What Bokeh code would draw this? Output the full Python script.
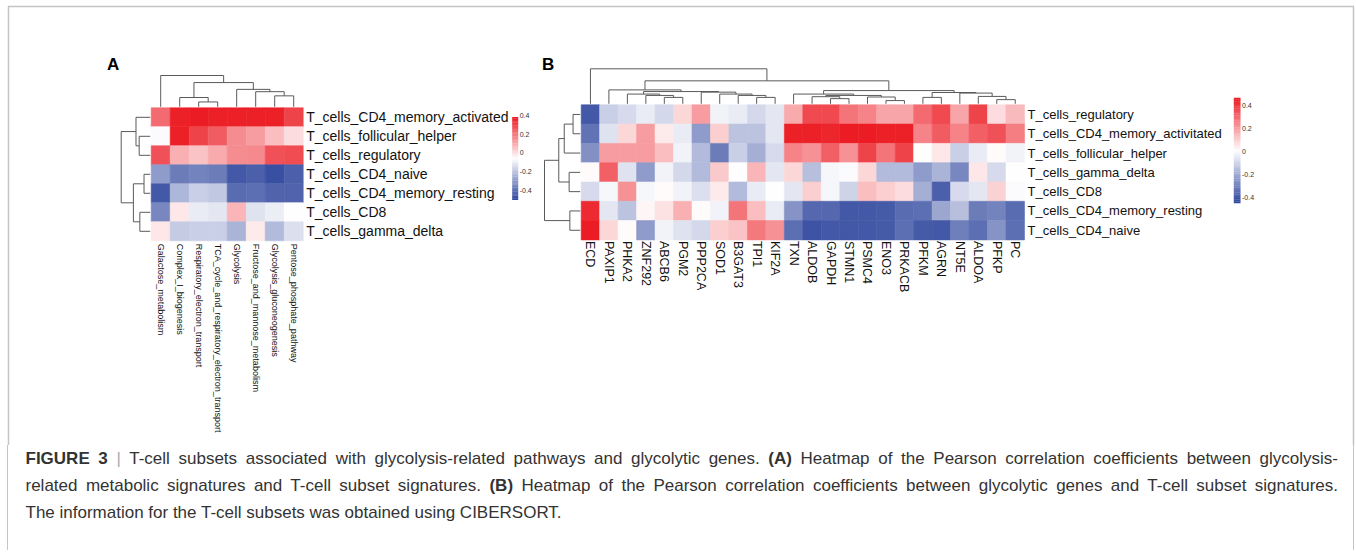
import numpy as np
from bokeh.plotting import figure
from bokeh.models import ColumnDataSource, Range1d, LinearColorMapper, Div
from bokeh.layouts import column
from bokeh.transform import transform
from bokeh.core.properties import value
from bokeh.embed import file_html
from bokeh.resources import INLINE

# ---------------- data ----------------
A_COLS = ["Galactose_metabolism", "Complex_I_biogenesis", "Respiratory_electron_transport",
          "TCA_cycle_and_respiratory_electron_transport", "Glycolysis",
          "Fructose_and_mannose_metabolism", "Glycolysis_gluconeogenesis",
          "Pentose_phosphate_pathway"]
A_ROWS = ["T_cells_CD4_memory_activated", "T_cells_follicular_helper", "T_cells_regulatory",
          "T_cells_CD4_naive", "T_cells_CD4_memory_resting", "T_cells_CD8",
          "T_cells_gamma_delta"]
A_VALUES = [
    [0.30, 0.45, 0.47, 0.45, 0.45, 0.45, 0.45, 0.38],
    [-0.01, 0.45, 0.38, 0.33, 0.23, 0.20, 0.13, 0.07],
    [0.35, 0.16, 0.12, 0.17, 0.23, 0.24, 0.35, 0.36],
    [-0.25, -0.33, -0.31, -0.33, -0.42, -0.40, -0.44, -0.40],
    [-0.42, -0.18, -0.12, -0.14, -0.37, -0.36, -0.39, -0.39],
    [-0.30, 0.05, -0.05, -0.06, 0.15, -0.07, -0.04, 0.00],
    [0.05, -0.13, -0.12, -0.12, -0.19, 0.04, -0.17, -0.08],
]
# merges (left id, right id, relative height); leaves are 0..n-1, merge k gets id n+k
A_COL_TREE = [(2, 3, 0.155), (1, 8, 0.297), (6, 7, 0.35), (5, 10, 0.483),
              (4, 11, 0.557), (9, 12, 0.774), (0, 13, 1.0)]
A_ROW_TREE = [(1, 2, 0.38), (0, 7, 0.49), (3, 4, 0.213), (5, 6, 0.357),
              (9, 10, 0.58), (8, 11, 1.0)]

B_COLS = ["ECD", "PAXIP1", "PHKA2", "ZNF292", "ABCB6", "PGM2", "PPP2CA", "SOD1", "B3GAT3",
          "TPI1", "KIF2A", "TXN", "ALDOB", "GAPDH", "STMN1", "PSMC4", "ENO3", "PRKACB",
          "PFKM", "AGRN", "NT5E", "ALDOA", "PFKP", "PC"]
B_ROWS = ["T_cells_regulatory", "T_cells_CD4_memory_activitated", "T_cells_follicular_helper",
          "T_cells_gamma_delta", "T_cells_CD8", "T_cells_CD4_memory_resting",
          "T_cells_CD4_naive"]
B_VALUES = [
    [-0.42, -0.12, -0.09, -0.05, -0.10, 0.08, 0.20, -0.03, -0.05, -0.10, -0.06,
     0.17, 0.37, 0.37, 0.28, 0.25, 0.18, 0.18, 0.30, 0.37, 0.18, 0.38, 0.07, 0.14],
    [-0.35, -0.07, 0.08, 0.20, 0.04, -0.05, -0.25, 0.10, -0.15, -0.15, -0.06,
     0.45, 0.45, 0.44, 0.46, 0.46, 0.45, 0.45, 0.25, 0.33, 0.25, 0.32, 0.35, 0.26],
    [-0.28, 0.20, 0.20, 0.20, 0.13, -0.03, -0.17, -0.33, -0.12, -0.20, -0.09,
     0.25, 0.22, 0.32, 0.22, 0.38, 0.28, 0.38, 0.00, 0.05, -0.12, -0.05, 0.01, -0.03],
    [0.01, 0.32, -0.07, -0.25, -0.03, -0.10, -0.17, 0.11, 0.00, 0.15, -0.06,
     0.08, -0.16, -0.02, -0.01, 0.08, -0.17, -0.17, -0.25, -0.19, -0.30, 0.05, -0.09, 0.00],
    [-0.09, -0.02, 0.22, -0.02, 0.01, -0.03, -0.08, 0.04, -0.17, -0.05, 0.00,
     -0.06, 0.10, -0.02, -0.11, 0.13, 0.10, 0.07, -0.20, -0.40, -0.09, -0.06, 0.09, -0.01],
    [0.43, -0.06, -0.15, 0.02, 0.06, 0.16, 0.01, -0.03, 0.28, 0.13, -0.05,
     -0.27, -0.38, -0.38, -0.42, -0.42, -0.41, -0.37, -0.36, -0.22, -0.16, -0.33, -0.31, -0.37],
    [0.46, 0.08, 0.01, -0.25, -0.03, -0.07, -0.10, 0.10, 0.12, 0.27, 0.22,
     -0.36, -0.43, -0.42, -0.42, -0.42, -0.41, -0.36, -0.41, -0.42, -0.32, -0.36, -0.27, -0.36],
]
B_COL_TREE = [(4, 5, 0.183), (3, 24, 0.239), (2, 25, 0.278), (9, 10, 0.183), (8, 27, 0.239),
              (7, 28, 0.278), (6, 29, 0.333), (26, 30, 0.35), (1, 31, 0.397), (13, 14, 0.147),
              (12, 33, 0.203), (16, 17, 0.092), (15, 35, 0.194), (34, 36, 0.239),
              (11, 37, 0.278), (18, 19, 0.183), (22, 23, 0.119), (21, 40, 0.211),
              (20, 41, 0.306), (39, 42, 0.322), (38, 43, 0.378), (32, 44, 0.656),
              (0, 45, 1.0)]
B_ROW_TREE = [(0, 1, 0.2), (7, 2, 0.447), (3, 4, 0.31), (8, 9, 0.6), (5, 6, 0.29),
              (10, 11, 1.0)]

CB_TICKS = [0.4, 0.2, 0.0, -0.2, -0.4]
CB_LABELS = ["0.4", "0.2", "0", "-0.2", "-0.4"]

CAPTION_1 = ("<b>FIGURE 3</b> <span style='color:#aaa'>|</span> T-cell subsets associated with "
             "glycolysis-related pathways and glycolytic genes. <b>(A)</b> Heatmap of the Pearson "
             "correlation coefficients between glycolysis-")
CAPTION_2 = ("related metabolic signatures and T-cell subset signatures. <b>(B)</b> Heatmap of the "
             "Pearson correlation coefficients between glycolytic genes and T-cell subset signatures.")
CAPTION_3 = "The information for the T-cell subsets was obtained using CIBERSORT."

# ---------------- styling ----------------
BLUE = (49, 72, 158)
RED = (236, 28, 36)


def make_palette(n=256):
    pal = []
    for t in np.linspace(0, 1, n):
        if t < 0.5:
            s = t / 0.5
            c = [BLUE[i] + (255 - BLUE[i]) * s for i in range(3)]
        else:
            s = (t - 0.5) / 0.5
            c = [255 + (RED[i] - 255) * s for i in range(3)]
        pal.append("#%02x%02x%02x" % tuple(int(round(v)) for v in c))
    return pal


PAL = make_palette()
mapper = LinearColorMapper(palette=PAL, low=-0.46, high=0.46)
FONT = value("Liberation Sans")
DCOL = "#5a5a5a"
FRAME = "#c4c4c4"

W, H = 1356, 445
p = figure(width=W, height=H, x_range=Range1d(0, W), y_range=Range1d(H, 0),
           output_backend="svg", toolbar_location=None, x_axis_type=None, y_axis_type=None,
           min_border=0)
p.outline_line_color = None
p.background_fill_color = "white"

# frame of the figure box
p.multi_line(xs=[[8, 8], [7.5, 1353.5], [1353, 1353]],
             ys=[[6, H], [6, 6], [6, H]], line_color=FRAME, line_width=1.5)


def tree_segments(tree, n):
    pos = list(range(n))
    hts = [0.0] * n
    segs = []
    for a, b, h in tree:
        segs.append(([pos[a], pos[a], pos[b], pos[b]], [hts[a], h, h, hts[b]]))
        pos.append((pos[a] + pos[b]) / 2.0)
        hts.append(h)
    return segs


def draw_panel(cols, rows, vals, col_tree, row_tree, x0, y0, cw, rh, col_dh, row_dw,
               col_font, row_font, col_gap):
    nr, nc = len(rows), len(cols)
    xs, ys, vs = [], [], []
    for i in range(nr):
        for j in range(nc):
            xs.append(x0 + (j + 0.5) * cw)
            ys.append(y0 + (i + 0.5) * rh)
            vs.append(vals[i][j])
    src = ColumnDataSource(dict(x=xs, y=ys, v=vs))
    p.rect(x="x", y="y", width=cw, height=rh, source=src,
           fill_color=transform("v", mapper), line_color=transform("v", mapper), line_width=0.6)
    # top dendrogram
    dx, dy = [], []
    for sx, sy in tree_segments(col_tree, nc):
        dx.append([x0 + (s + 0.5) * cw for s in sx])
        dy.append([y0 - 1 - h * col_dh for h in sy])
    p.multi_line(xs=dx, ys=dy, line_color=DCOL, line_width=1)
    # left dendrogram
    dx, dy = [], []
    for sy, sx in tree_segments(row_tree, nr):
        dy.append([y0 + (s + 0.5) * rh for s in sy])
        dx.append([x0 - 1 - h * row_dw for h in sx])
    p.multi_line(xs=dx, ys=dy, line_color=DCOL, line_width=1)
    # row labels
    p.text(x=[x0 + nc * cw + 3] * nr, y=[y0 + (i + 0.5) * rh for i in range(nr)], text=rows,
           text_font=FONT, text_font_size=row_font, text_align="left",
           text_baseline="middle", text_color="#111111")
    # column labels
    p.text(x=[x0 + (j + 0.5) * cw for j in range(nc)], y=[y0 + nr * rh + col_gap] * nc,
           text=cols, angle=-np.pi / 2, text_font=FONT, text_font_size=col_font,
           text_align="left", text_baseline="middle", text_color="#111111")


def draw_colorbar(bx, by_top, by_bot, bw, zero_y, k):
    n = 60
    edges = np.linspace(by_bot, by_top, n + 1)
    tv = np.linspace(-0.46, 0.46, n)
    src = ColumnDataSource(dict(x=[bx + bw / 2] * n, y=list((edges[:-1] + edges[1:]) / 2),
                                v=list(tv)))
    p.rect(x="x", y="y", width=bw, height=abs(edges[1] - edges[0]) + 0.3, source=src,
           fill_color=transform("v", mapper), line_color=None)
    p.text(x=[bx + bw + 1.5] * len(CB_TICKS), y=[zero_y - t * k for t in CB_TICKS],
           text=CB_LABELS, text_font=FONT, text_font_size="7px", text_align="left",
           text_baseline="middle", text_color="#333333")


# Panel A
draw_panel(A_COLS, A_ROWS, A_VALUES, A_COL_TREE, A_ROW_TREE,
           x0=150.7, y0=107.3, cw=19.0, rh=19.0, col_dh=31.3, row_dw=29.0,
           col_font="9px", row_font="14px", col_gap=3)
draw_colorbar(511.7, 116.7, 199.3, 6.0, 152.3, 93.0)

# Panel B
draw_panel(B_COLS, B_ROWS, B_VALUES, B_COL_TREE, B_ROW_TREE,
           x0=580.7, y0=104.3, cw=18.47, rh=19.3, col_dh=35.0, row_dw=35.7,
           col_font="12.5px", row_font="13px", col_gap=1)
draw_colorbar(1233.3, 97.3, 202.7, 6.7, 151.0, 116.0)

# panel letters
p.text(x=[106.5, 541.5], y=[63.5, 63.5], text=["A", "B"], text_font=FONT,
       text_font_size="17px", text_font_style="bold", text_align="left",
       text_baseline="middle", text_color="black")

line_style = "text-align:justify;text-align-last:justify;white-space:nowrap;"
html = (
    "<div style=\"margin-left:7px;width:1347px;height:105px;box-sizing:border-box;"
    f"border-left:1.5px solid {FRAME};border-right:1.5px solid {FRAME};"
    "padding:0 15px 0 17.5px;font-family:'Liberation Sans',Arial,sans-serif;"
    "font-size:17px;line-height:27px;color:#333;\">"
    f"<div style=\"{line_style}\">{CAPTION_1}</div>"
    f"<div style=\"{line_style}\">{CAPTION_2}</div>"
    f"<div>{CAPTION_3}</div>"
    "</div>"
)
cap = Div(text=html, width=W, height=105, margin=0)

layout = column(p, cap, spacing=0)
open("out.html", "w").write(file_html(layout, INLINE))
